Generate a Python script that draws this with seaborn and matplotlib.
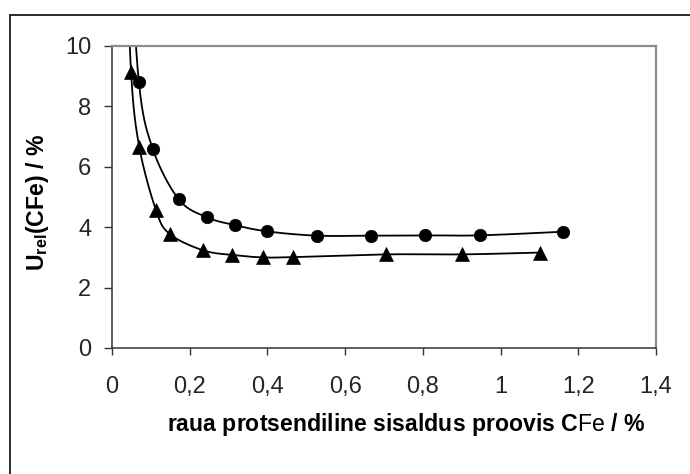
import numpy as np
import pandas as pd
import matplotlib
matplotlib.use("Agg")
import matplotlib.pyplot as plt
from matplotlib.patches import Rectangle
import seaborn as sns

# ---- data ----
circle_x = [0.045, 0.069, 0.105, 0.172, 0.244, 0.316, 0.400, 0.527, 0.666, 0.805, 0.947, 1.160]
circle_y = [14.0, 8.82, 6.59, 4.92, 4.33, 4.07, 3.86, 3.72, 3.72, 3.73, 3.73, 3.85]
tri_x = [0.036, 0.049, 0.070, 0.113, 0.148, 0.233, 0.309, 0.388, 0.467, 0.705, 0.902, 1.101]
tri_y = [14.0, 9.14, 6.67, 4.57, 3.78, 3.24, 3.08, 3.00, 3.01, 3.10, 3.10, 3.16]
xticks = [0, 0.2, 0.4, 0.6, 0.8, 1.0, 1.2, 1.4]
xtick_labels = ["0", "0,2", "0,4", "0,6", "0,8", "1", "1,2", "1,4"]
yticks = [0, 2, 4, 6, 8, 10]
ytick_labels = ["0", "2", "4", "6", "8", "10"]

sns.set_theme(style="white")
plt.rcParams["font.family"] = ["Liberation Sans", "DejaVu Sans"]
plt.rcParams["mathtext.fontset"] = "custom"
plt.rcParams["mathtext.rm"] = "Liberation Sans"
plt.rcParams["mathtext.bf"] = "Liberation Sans:bold"
plt.rcParams["mathtext.it"] = "Liberation Sans:italic"

W, H = 690, 474
fig = plt.figure(figsize=(W / 100, H / 100), dpi=100)
fig.patch.set_facecolor("white")
ax = fig.add_axes([112 / W, 1 - 348 / H, (656 - 112) / W, (348 - 46) / H])
ax.set_xlim(0, 1.4)
ax.set_ylim(0, 10)


def smooth(xs, ys, n=40):
    pts = ax.transData.transform(np.column_stack([xs, ys]))
    P = np.vstack([pts[0], pts, pts[-1]])
    out = []
    for i in range(1, len(P) - 2):
        p0, p1, p2, p3 = P[i - 1], P[i], P[i + 1], P[i + 2]
        t = np.linspace(0, 1, n)[:, None]
        c = 0.5 * ((2 * p1) + (-p0 + p2) * t + (2 * p0 - 5 * p1 + 4 * p2 - p3) * t ** 2
                   + (-p0 + 3 * p1 - 3 * p2 + p3) * t ** 3)
        out.append(c)
    out = np.vstack(out)
    return ax.transData.inverted().transform(out)


for xs, ys, mk, ms in [(circle_x, circle_y, "o", 80), (tri_x, tri_y, "^", 100)]:
    curve = smooth(xs, ys)
    df_c = pd.DataFrame({"x": curve[:, 0], "y": curve[:, 1]})
    sns.lineplot(data=df_c, x="x", y="y", ax=ax, color="black", lw=1.3,
                 sort=False, estimator=None)
    df_p = pd.DataFrame({"x": xs, "y": ys})
    sns.scatterplot(data=df_p, x="x", y="y", ax=ax, marker=mk, s=ms,
                    color="black", edgecolor="black", linewidth=0.5, zorder=5)

ax.set_xlim(0, 1.4)
ax.set_ylim(0, 10)
ax.set_xticks(xticks)
ax.set_xticklabels(xtick_labels)
ax.set_yticks(yticks)
ax.set_yticklabels(ytick_labels)
ax.set_xlabel("")
ax.set_ylabel("")
ax.tick_params(axis="x", direction="out", length=5, width=1, color="#333333",
               labelsize=17, pad=15, bottom=True)
ax.tick_params(axis="y", direction="out", length=6, width=1, color="#333333",
               labelsize=17, pad=9, left=True)
for s in ["left", "bottom"]:
    ax.spines[s].set_color("#333333")
    ax.spines[s].set_linewidth(1.1)
for s in ["top", "right"]:
    ax.spines[s].set_color("#8c8c8c")
    ax.spines[s].set_linewidth(1.6)

fig.text(0.589, 1 - 424 / H,
         r"$\mathbf{raua\ protsendiline\ sisaldus\ proovis\ C}\mathrm{Fe}\mathbf{\ /\ \%}$",
         ha="center", va="center", fontsize=16.6, color="black")
fig.text(0.055, 1 - 203 / H,
         r"$\mathbf{U}_{\mathbf{rel}}\mathbf{(CFe)\ /\ \%}$",
         ha="center", va="center", rotation=90, fontsize=16.6, color="black")

fig.add_artist(Rectangle((10 / W, -0.1), 1.2, 1.1 - 15 / H, transform=fig.transFigure,
                         fill=False, edgecolor="#1a1a1a", linewidth=1.3))

fig.savefig("out.png", dpi=100, facecolor="white")
